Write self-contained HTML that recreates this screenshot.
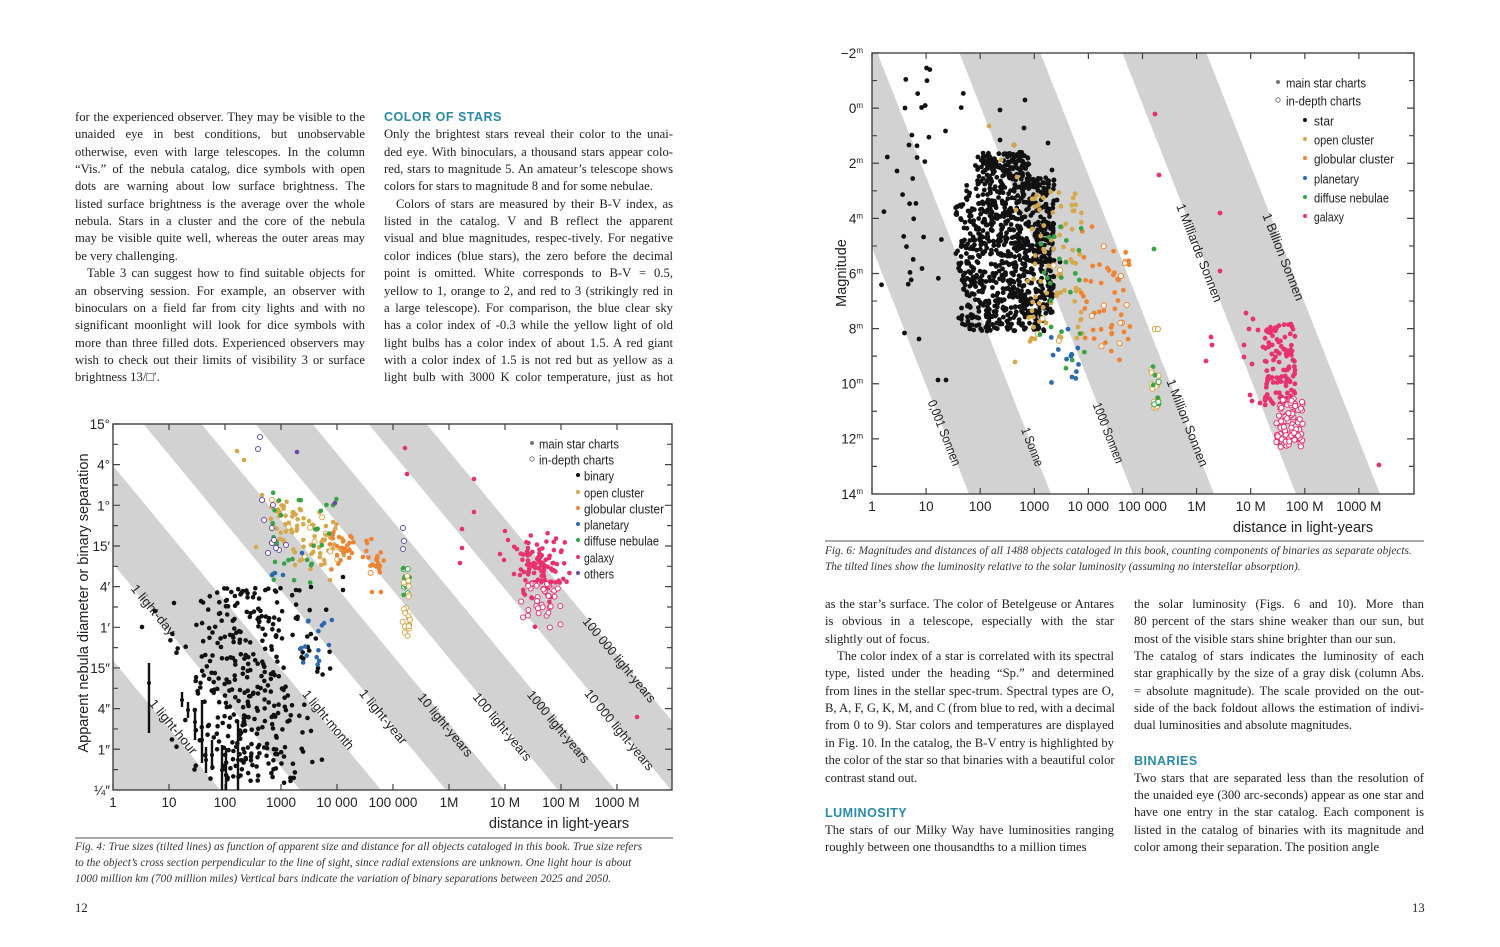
<!DOCTYPE html>
<html><head><meta charset="utf-8"><style>
body{margin:0;background:#fff;}
#pg{position:relative;width:1500px;height:947px;overflow:hidden;background:#fff;}
.t{position:absolute;font-family:"Liberation Serif",serif;font-size:12.65px;color:#222;white-space:nowrap;line-height:17px;}
.j{text-align:justify;text-align-last:justify;}
.h{position:absolute;font-family:"Liberation Sans",sans-serif;font-weight:bold;font-size:12.5px;color:#2a8aa5;letter-spacing:0.5px;}
.c{position:absolute;font-family:"Liberation Serif",serif;font-style:italic;font-size:11.3px;color:#333;white-space:nowrap;}
svg{position:absolute;left:0;top:0;}
svg text{font-family:"Liberation Sans",sans-serif;fill:#222;}
</style></head><body><div id="pg">
<svg id="s" width="1500" height="947" viewBox="0 0 1500 947"></svg>
<div id="txt"></div>
</div>
<script>
var S=document.getElementById('s'),out=[];
function R(a){return function(){a|=0;a=a+0x6D2B79F5|0;var t=Math.imul(a^a>>>15,1|a);t=t+Math.imul(t^t>>>7,61|t)^t;return((t^t>>>14)>>>0)/4294967296;}}
var rnd=R(12345);
function g(){return (rnd()+rnd()+rnd()-1.5)/0.5;}
function P(x,y,c,o,r){r=r||2.4;out.push(o?'<circle cx="'+x.toFixed(1)+'" cy="'+y.toFixed(1)+'" r="'+(r+0.2)+'" fill="#fff" stroke="'+c+'" stroke-width="1"/>':'<circle cx="'+x.toFixed(1)+'" cy="'+y.toFixed(1)+'" r="'+r+'" fill="'+c+'"/>');}
var BK='#111',TN='#d6a84c',OR='#ee8433',BL='#2b69b0',GR='#37a346',PK='#e8316f',PU='#6a4ba0',GY='#d2d2d2';
function T(x,y,s,sz,anch,extra){out.push('<text x="'+x+'" y="'+y+'" font-size="'+sz+'" text-anchor="'+(anch||'start')+'" '+(extra||'')+'>'+s+'</text>');}
// ===== LEFT CHART =====
var L0=113,L1=672,T0=424,B0=790;
out.push('<clipPath id="cl"><rect x="'+L0+'" y="'+T0+'" width="'+(L1-L0)+'" height="'+(B0-T0)+'"/></clipPath>');
out.push('<g clip-path="url(#cl)">');
out.push('<polygon points="113,660.5 220,790 0,790" fill="'+GY+'"/>');
[[300,381],[446,504],[558,615],[671,729]].forEach(function(b){var o=302.5;out.push('<polygon points="'+(b[0]-o)+','+T0+' '+(b[1]-o)+','+T0+' '+b[1]+','+B0+' '+b[0]+','+B0+'" fill="'+GY+'"/>');});
out.push('</g>');
[['1 light-hour',173,727],['1 light-day',153,610],['1 light-month',328,720],['1 light-year',383,717],['10 light-years',445,725],['100 light-years',502,727],['1000 light-years',558,727],['10 000 light-years',619,730],['100 000 light-years',619,660]].forEach(function(a){T(0,4,a[0],13,'middle','transform="translate('+a[1]+','+a[2]+') rotate(50.4)" textLength="'+(a[0].length*5.6)+'" lengthAdjust="spacingAndGlyphs"');});
var tk='';
for(var i=0;i<10;i++){var x=113+56*i;tk+='M'+x+','+T0+'v6M'+x+','+B0+'v-6';}
for(var i=0;i<19;i++){var y=T0+20.33*i;var w=(i%2==0)?7:5;tk+='M'+L0+','+y+'h'+w+'M'+L1+','+y+'h-'+w;}
out.push('<path d="'+tk+'" stroke="#444" stroke-width="1.2" fill="none"/>');
out.push('<rect x="'+L0+'" y="'+T0+'" width="'+(L1-L0)+'" height="'+(B0-T0)+'" fill="none" stroke="#444" stroke-width="1.4"/>');
['15°','4°','1°','15′','4′','1′','15″','4″','1″','¼″'].forEach(function(s,i){T(110,T0+40.67*i+5,s,13.5,'end');});
['1','10','100','1000','10 000','100 000','1M','10 M','100 M','1000 M'].forEach(function(s,i){T(113+56*i,807,s,13.5,'middle');});
T(559,828,'distance in light-years',14.5,'middle');
T(0,0,'Apparent nebula diameter or binary separation',14.5,'middle','transform="translate(88,603) rotate(-90)"');
var bars=[[149,663,733,683],[182,692,707,700],[188,702,718,710],[195,710,740,722],[202,700,763,740],[206,747,773,760],[212,740,770,755],[222,745,790,770],[226,748,790,775],[238,720,790,760]];
var bp='';bars.forEach(function(b){bp+='M'+b[0]+','+b[1]+'V'+b[2];P(b[0],b[3],BK,0,2);});
out.push('<path d="'+bp+'" stroke="#111" stroke-width="2.4"/>');
for(var i=0;i<360;i++){var x=248+g()*30;x=Math.max(163,Math.min(345,x));var y=588+rnd()*195;if(x>300&&y<600)continue;P(x,y,BK,0,2.3);}
[[142,627],[155,611],[174,603],[296,590],[343,577],[343,590],[311,587]].forEach(function(p){P(p[0],p[1],BK,0,2.3);});
for(var i=0;i<90;i++){var x=270+rnd()*75;var y=528+(x-300)*0.55+g()*14;P(x,y,TN,rnd()<0.12,2.3);}
[[237,451],[244,460],[262,495],[263,500],[256,547],[295,565],[330,580]].forEach(function(p){P(p[0],p[1],TN,0,2.3);});
for(var i=0;i<42;i++){var x=328+rnd()*56;var y=550+(x-350)*0.45+g()*12;P(x,y,OR,rnd()<0.1,2.3);}
[[380,566],[381,592],[372,592]].forEach(function(p){P(p[0],p[1],OR,0,2.3);});
for(var i=0;i<30;i++){P(272+rnd()*72,490+rnd()*95,GR,0,2.3);}
for(var i=0;i<16;i++){P(403+rnd()*7,565+rnd()*35,GR,rnd()<0.6,2.3);}
for(var i=0;i<20;i++){P(402+rnd()*8,575+rnd()*62,TN,1,2.3);}
for(var i=0;i<16;i++){P(300+rnd()*32,620+rnd()*52,BL,0,2.3);}
[[272,575],[275,573],[283,575],[302,553]].forEach(function(p){P(p[0],p[1],BL,0,2.3);});
[[260,437],[258,449],[262,500],[273,505],[264,520],[272,543],[279,550],[276,548],[272,528],[286,545],[274,540],[268,553]].forEach(function(p){P(p[0],p[1],PU,1,2.3);});
[[297,452],[335,503]].forEach(function(p){P(p[0],p[1],PU,0,2.3);});
[[403,528],[404,541],[403,549]].forEach(function(p){P(p[0],p[1],PU,1,2.3);});
for(var i=0;i<130;i++){var x=540+g()*12;var y=575+g()*22;P(x,y,PK,y>583&&rnd()<0.8,2.3);}
[[405,448],[407,474],[474,479],[474,512],[462,529],[462,548],[460,563],[500,554],[504,560],[517,549],[528,548],[533,566],[514,574],[520,575],[524,572],[637,717],[508,540],[505,531]].forEach(function(p){P(p[0],p[1],PK,0,2.3);});
var ly=[444,460,476,493,509,525,541,558,574],ls=['main star charts','in-depth charts','binary','open cluster','globular cluster','planetary','diffuse nebulae','galaxy','others'],lc=['#777','#777',BK,TN,OR,BL,GR,PK,PU];
ls.forEach(function(s,i){var mx=i<2?532:578,tx=i<2?539:584;P(mx,ly[i]-1,lc[i],i==1,2);T(tx,ly[i]+4.5,s,12.5,'start','textLength="'+(s.length*5.0)+'" lengthAdjust="spacingAndGlyphs"');});
// ===== RIGHT CHART =====
var R0=872,R1=1414,U0=53,V0=494;
out.push('<clipPath id="cr"><rect x="'+R0+'" y="'+U0+'" width="'+(R1-R0)+'" height="'+(V0-U0)+'"/></clipPath>');
out.push('<g clip-path="url(#cr)">');
[[969,1051],[1133,1214],[1296,1380]].forEach(function(b){var o=173.6;out.push('<polygon points="'+(b[0]-o)+','+U0+' '+(b[1]-o)+','+U0+' '+b[1]+','+V0+' '+b[0]+','+V0+'" fill="'+GY+'"/>');});
out.push('</g>');
[['0,001 Sonnen',944,433],['1 Sonne',1032,447],['1000 Sonnen',1108,433],['1 Million Sonnen',1187,423],['1 Milliarde Sonnen',1199,253],['1 Billion Sonnen',1283,257]].forEach(function(a){T(0,4,a[0],13,'middle','transform="translate('+a[1]+','+a[2]+') rotate(68.5)" textLength="'+(a[0].length*5.8)+'" lengthAdjust="spacingAndGlyphs"');});
tk='';
for(var i=0;i<10;i++){var x=872+54.1*i;tk+='M'+x+','+U0+'v6M'+x+','+V0+'v-6';}
for(var i=0;i<17;i++){var y=U0+27.56*i;var w=(i%2==0)?7:5;tk+='M'+R0+','+y+'h'+w+'M'+R1+','+y+'h-'+w;}
out.push('<path d="'+tk+'" stroke="#444" stroke-width="1.2" fill="none"/>');
out.push('<rect x="'+R0+'" y="'+U0+'" width="'+(R1-R0)+'" height="'+(V0-U0)+'" fill="none" stroke="#444" stroke-width="1.4"/>');
['−2','0','2','4','6','8','10','12','14'].forEach(function(s,i){T(863,U0+55.1*i+5,s+'<tspan font-size="8" dy="-5">m</tspan>',13.5,'end');});
['1','10','100','1000','10 000','100 000','1M','10 M','100 M','1000 M'].forEach(function(s,i){T(872+54.1*i,511,s,13.5,'middle');});
T(1303,532,'distance in light-years',14.5,'middle');
T(0,0,'Magnitude',14.5,'middle','transform="translate(846,273) rotate(-90)"');
function MY(m){return 108+27.56*m;}
for(var i=0;i<1000;i++){var m=1.6+rnd()*6.5;var y=MY(m);var lx=m<2.5?975:(m<3.5?962:952+ (m-3.5)*1.5);var rx=m<2.5?1030:(m<7.5?1054:1045);var x=lx+Math.pow(rnd(),0.8)*(rx-lx);P(x,y,BK,0,2.4);}
for(var i=0;i<45;i++){var m=-1.5+rnd()*9.8;var x=880+rnd()*90;if(m>1.5&&x>945)continue;P(x,MY(m),BK,0,2.4);}
[[905,108],[909,145],[919,339],[946,380],[1000,110],[1000,140],[1004,175],[1014,145],[1024,128],[1025,100],[1048,143],[1052,170],[1054,185],[1057,200],[1060,262],[938,380]].forEach(function(p){P(p[0],p[1],BK,0,2.4);});
for(var i=0;i<80;i++){var x=1025+rnd()*60;var y=MY(3+rnd()*5.5);P(x,y,TN,rnd()<0.15,2.4);}
[[989,126],[1001,160],[1014,145],[1017,177],[1016,210],[1015,362]].forEach(function(p){P(p[0],p[1],TN,0,2.4);});
for(var i=0;i<55;i++){var x=1080+rnd()*50;var y=MY(4+rnd()*5)+ (x-1080)*0.6;if(y>360)y-=40;P(x,y,OR,rnd()<0.2,2.4);}
for(var i=0;i<24;i++){P(1040+rnd()*45,MY(4+rnd()*6),GR,0,2.4);}
for(var i=0;i<14;i++){P(1045+rnd()*35,MY(8+rnd()*2),BL,0,2.4);}
for(var i=0;i<14;i++){P(1151+rnd()*9,MY(9.4+rnd()*1.8),TN,1,2.4);}
for(var i=0;i<8;i++){P(1152+rnd()*7,MY(9+rnd()*2),GR,rnd()<0.5,2.4);}
P(1154,249,GR,0,2.4);P(1155,329,TN,1,2.4);P(1158,329,TN,1,2.4);
for(var i=0;i<110;i++){var m=7.8+rnd()*3;P(1265+rnd()*30,MY(m),PK,0,2.4);}
for(var i=0;i<90;i++){var m=10.5+rnd()*1.8;P(1276+rnd()*27,MY(m),PK,1,2.4);}
[[1155,114],[1159,175],[1220,213],[1220,271],[1211,337],[1212,345],[1206,361],[1379,465],[1246,313],[1253,319],[1249,329],[1244,345],[1258,330],[1270,330],[1263,347],[1244,357],[1252,364],[1250,395],[1252,401],[1260,403]].forEach(function(p){P(p[0],p[1],PK,0,2.4);});
var ry=[83,101,121,140,159,179,198,217],rs=['main star charts','in-depth charts','star','open cluster','globular cluster','planetary','diffuse nebulae','galaxy'],rc=['#777','#777',BK,TN,OR,BL,GR,PK];
rs.forEach(function(s,i){var mx=i<2?1278:1305,tx=i<2?1286:1314;P(mx,ry[i]-1,rc[i],i==1,2);T(tx,ry[i]+4.5,s,12.5,'start','textLength="'+(s.length*5.0)+'" lengthAdjust="spacingAndGlyphs"');});
out.push('<path d="M75,838H673M825,541H1424" stroke="#555" stroke-width="1"/>');
S.innerHTML=out.join('');
// ===== TEXT =====
var H='';
function col(x,y0,w,lines){lines.forEach(function(l,i){if(l===null)return;var y=y0+i*17.35;var cls=l[0]==='*'?'t':'t j';var s=l[0]==='*'?l.slice(1):l;var ind=0;if(s[0]==='>'){s=s.slice(1);ind=12;}H+='<div class="'+cls+'" style="left:'+(x+ind)+'px;top:'+(y-9)+'px;width:'+(w-ind)+'px">'+s+'</div>';});}
col(75,118,290,['for the experienced observer. They may be visible to the','unaided eye in best conditions, but unobservable','otherwise, even with large telescopes. In the column','“Vis.” of the nebula catalog, dice symbols with open','dots are warning about low surface brightness. The','listed surface brightness is the average over the whole','nebula. Stars in a cluster and the core of the nebula','may be visible quite well, whereas the outer areas may','*be very challenging.','>Table 3 can suggest how to find suitable objects for','an observing session. For example, an observer with','binoculars on a field far from city lights and with no','significant moonlight will look for dice symbols with','more than three filled dots. Experienced observers may','wish to check out their limits of visibility 3 or surface','*brightness 13/□′.']);
col(384,118,289,[null,'Only the brightest stars reveal their color to the unai-','ded eye. With binoculars, a thousand stars appear colo-','red, stars to magnitude 5. An amateur’s telescope shows','*colors for stars to magnitude 8 and for some nebulae.','>Colors of stars are measured by their B-V index, as','listed in the catalog. V and B reflect the apparent','visual and blue magnitudes, respec-tively. For negative','color indices (blue stars), the zero before the decimal','point is omitted. White corresponds to B-V = 0.5,','yellow to 1, orange to 2, and red to 3 (strikingly red in','a large telescope). For comparison, the blue clear sky','has a color index of -0.3 while the yellow light of old','light bulbs has a color index of about 1.5. A red giant','with a color index of 1.5 is not red but as yellow as a','light bulb with 3000 K color temperature, just as hot']);
H+='<div class="h" style="left:384px;top:110px">COLOR OF STARS</div>';
col(825,605,289,['as the star’s surface. The color of Betelgeuse or Antares','is obvious in a telescope, especially with the star','*slightly out of focus.','>The color index of a star is correlated with its spectral','type, listed under the heading “Sp.” and determined','from lines in the stellar spec-trum. Spectral types are O,','B, A, F, G, K, M, and C (from blue to red, with a decimal','from 0 to 9). Star colors and temperatures are displayed','in Fig. 10. In the catalog, the B-V entry is highlighted by','the color of the star so that binaries with a beautiful color','*contrast stand out.',null,null,'The stars of our Milky Way have luminosities ranging','*roughly between one thousandths to a million times']);
H+='<div class="h" style="left:825px;top:806px">LUMINOSITY</div>';
col(1134,605,290,['the solar luminosity (Figs. 6 and 10). More than','80 percent of the stars shine weaker than our sun, but','*most of the visible stars shine brighter than our sun.','The catalog of stars indicates the luminosity of each','star graphically by the size of a gray disk (column Abs.','= absolute magnitude). The scale provided on the out-','side of the back foldout allows the estimation of indivi-','*dual luminosities and absolute magnitudes.',null,null,'Two stars that are separated less than the resolution of','the unaided eye (300 arc-seconds) appear as one star and','have one entry in the star catalog. Each component is','listed in the catalog of binaries with its magnitude and','*color among their separation. The position angle']);
H+='<div class="h" style="left:1134px;top:754px">BINARIES</div>';
H+='<div class="c" style="left:825px;top:545px">Fig. 6: Magnitudes and distances of all 1488 objects cataloged in this book, counting components of binaries as separate objects.</div>';
H+='<div class="c" style="left:825px;top:561px">The tilted lines show the luminosity relative to the solar luminosity (assuming no interstellar absorption).</div>';
H+='<div class="c" style="left:75px;top:841px">Fig. 4: True sizes (tilted lines) as function of apparent size and distance for all objects cataloged in this book. True size refers</div>';
H+='<div class="c" style="left:75px;top:857px">to the object’s cross section perpendicular to the line of sight, since radial extensions are unknown. One light hour is about</div>';
H+='<div class="c" style="left:75px;top:873px">1000 million km (700 million miles) Vertical bars indicate the variation of binary separations between 2025 and 2050.</div>';
H+='<div class="t" style="left:75px;top:900px">12</div><div class="t" style="left:1412px;top:900px">13</div>';
document.getElementById('txt').innerHTML=H;
</script>
</body></html>
